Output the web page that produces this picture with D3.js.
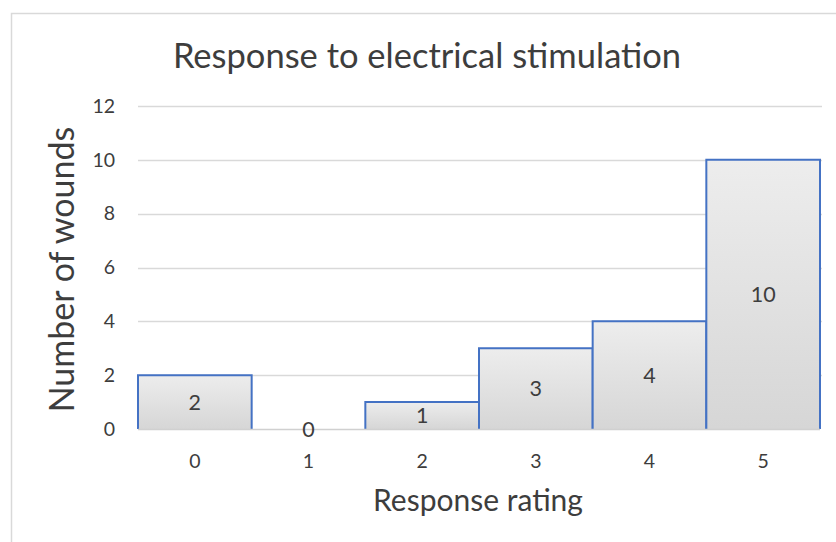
<!DOCTYPE html>
<html>
<head>
<meta charset="utf-8">
<script src="https://cdn.jsdelivr.net/npm/d3@7"></script>
<style>
  html, body { margin: 0; padding: 0; background: #fff; }
  svg { display: block; }
</style>
</head>
<body>
<svg id="chart" width="836" height="542"></svg>
<script>
// Histogram of wound response ratings
const ratings = ["0", "1", "2", "3", "4", "5"];
const wounds = [2, 0, 1, 3, 4, 10];
const yTicks = [0, 2, 4, 6, 8, 10, 12];

const chartTitle = "Response to electrical stimulation";
const xTitle = "Response rating";
const yTitle = "Number of wounds";

const W = 836, H = 542;
const margin = { left: 138, right: 16, top: 106, bottom: 113 };
const font = "Lato, 'Open Sans', sans-serif";
const textColor = "#3d3d3d";

const svg = d3.select("#chart");

// Chart frame
svg.append("rect")
  .attr("x", 11.5).attr("y", 13.5)
  .attr("width", W + 20).attr("height", H + 20)
  .attr("fill", "#fff").attr("stroke", "#d9d9d9").attr("stroke-width", 1.5);

const x = d3.scaleBand().domain(ratings)
  .range([margin.left, W - margin.right]).padding(0);
const y = d3.scaleLinear().domain([0, 12])
  .range([H - margin.bottom, margin.top]);

// Fill gradient for bars
const defs = svg.append("defs");
const grad = defs.append("linearGradient")
  .attr("id", "barFill").attr("x1", 0).attr("y1", 0).attr("x2", 0).attr("y2", 1);
grad.append("stop").attr("offset", "0%").attr("stop-color", "#ededed");
grad.append("stop").attr("offset", "100%").attr("stop-color", "#d6d6d6");

// Gridlines
svg.append("g")
  .selectAll("line")
  .data(yTicks.filter(d => d > 0))
  .join("line")
  .attr("x1", margin.left).attr("x2", W - margin.right + 2)
  .attr("y1", d => Math.round(y(d)) + 0.5).attr("y2", d => Math.round(y(d)) + 0.5)
  .attr("stroke", "#d9d9d9").attr("stroke-width", 1.5);

// Y axis labels
const yAxis = svg.append("g")
  .attr("transform", `translate(${margin.left - 23},0)`)
  .call(d3.axisLeft(y).tickValues(yTicks).tickSize(0).tickPadding(0));
yAxis.select(".domain").remove();
yAxis.selectAll("text")
  .attr("font-family", font).attr("font-size", 19.5).attr("fill", textColor);

// Bars
const bars = svg.append("g");
ratings.forEach((r, i) => {
  const v = wounds[i];
  const x0 = x(r), x1 = x(r) + x.bandwidth();
  const y0 = y(0), y1 = y(v);
  if (v > 0) {
    bars.append("rect")
      .attr("x", x0).attr("y", y1)
      .attr("width", x.bandwidth()).attr("height", y0 - y1)
      .attr("fill", "url(#barFill)");
    bars.append("path")
      .attr("d", `M${x0},${y0}V${y1}H${x1}V${y0}`)
      .attr("fill", "none").attr("stroke", "#4472c4").attr("stroke-width", 2);
  }
});

// Baseline
svg.append("line")
  .attr("x1", margin.left).attr("x2", W - margin.right)
  .attr("y1", y(0) + 0.5).attr("y2", y(0) + 0.5)
  .attr("stroke", "#d0d0d0").attr("stroke-width", 1.5);

// Value labels centred in each bar
svg.append("g")
  .selectAll("text")
  .data(ratings.map((r, i) => ({ r, v: wounds[i] })))
  .join("text")
  .attr("x", d => x(d.r) + x.bandwidth() / 2)
  .attr("y", d => (y(0) + y(d.v)) / 2)
  .attr("dy", "0.36em")
  .attr("text-anchor", "middle")
  .attr("font-family", font).attr("font-size", 21.5).attr("fill", textColor)
  .text(d => d.v);

// X axis labels
const xAxis = svg.append("g")
  .attr("transform", `translate(0,${y(0) + 25})`)
  .call(d3.axisBottom(x).tickSize(0).tickPadding(0));
xAxis.select(".domain").remove();
xAxis.selectAll("text")
  .attr("font-family", font).attr("font-size", 19.5).attr("fill", textColor);

// Titles
svg.append("text")
  .attr("x", 427).attr("y", 68)
  .attr("text-anchor", "middle")
  .attr("font-family", font).attr("font-size", 34.5).attr("fill", textColor)
  .text(chartTitle);

svg.append("text")
  .attr("x", 478).attr("y", 511)
  .attr("text-anchor", "middle")
  .attr("font-family", font).attr("font-size", 30).attr("fill", textColor)
  .text(xTitle);

svg.append("text")
  .attr("transform", `translate(74,${(y(0) + y(12)) / 2 + 2}) rotate(-90)`)
  .attr("text-anchor", "middle")
  .attr("font-family", font).attr("font-size", 34).attr("fill", textColor)
  .text(yTitle);
</script>
</body>
</html>
